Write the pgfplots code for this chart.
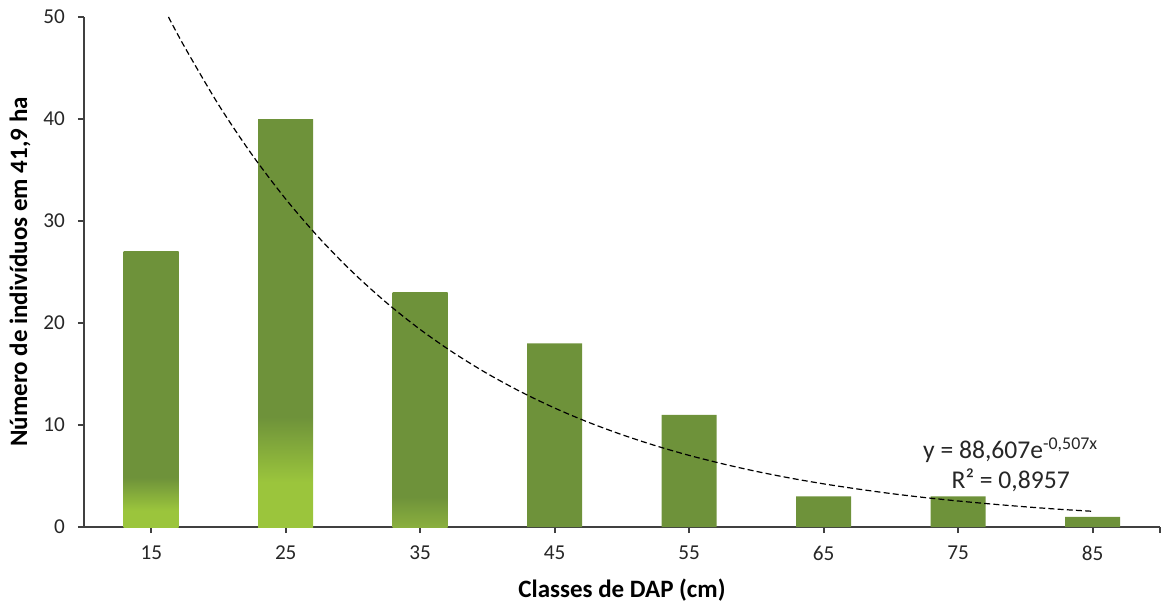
\documentclass[border=0pt]{standalone}
\usepackage{fontspec}
\setmainfont{Carlito}
\usepackage{pgfplots}
\pgfplotsset{compat=1.18}

\definecolor{bardark}{RGB}{110,146,58}
\definecolor{barlight}{RGB}{155,197,60}
\definecolor{barmid}{RGB}{138,175,62}
\definecolor{axisgray}{RGB}{64,64,64}
\definecolor{txt}{RGB}{38,38,38}

% vertical bar gradients: light green at the foot, dark green above
\pgfdeclareverticalshading{barA}{100bp}{color(0bp)=(barlight); color(28bp)=(barlight); color(34bp)=(bardark); color(100bp)=(bardark)}
\pgfdeclareverticalshading{barB}{100bp}{color(0bp)=(barlight); color(30.5bp)=(barlight); color(38.5bp)=(bardark); color(100bp)=(bardark)}
\pgfdeclareverticalshading{barC}{100bp}{color(0bp)=(barmid); color(25bp)=(barmid); color(31.5bp)=(bardark); color(100bp)=(bardark)}

\begin{document}
\begin{tikzpicture}
\begin{axis}[
  width=538pt, height=255pt, scale only axis,
  xmin=0.5, xmax=8.5, ymin=0, ymax=50,
  axis lines=left,
  axis line style={-, axisgray, line width=1pt},
  xtick={1,2,3,4,5,6,7,8,8.5},
  xticklabels={15,25,35,45,55,65,75,85,{}},
  ytick={0,10,...,50},
  tick align=outside, major tick length=3pt,
  tick style={axisgray, line width=0.8pt},
  tick label style={font=\fontsize{10.6}{12}\selectfont, text=txt},
  yticklabel style={xshift=-3pt},
  xticklabel style={yshift=-3pt},
  /pgf/number format/assume math mode=true,
  xlabel={Classes de DAP (cm)},
  ylabel={Número de indivíduos em 41,9 ha},
  label style={font=\bfseries\fontsize{12.5}{15}\selectfont, text=black},
  xlabel style={at={(axis description cs:0.5,-0.1235)}, anchor=center},
  ylabel style={at={(axis description cs:-0.0595,0.5)}, anchor=center},
  clip=false,
]
% bars
\addplot[ybar, bar width=27.5pt, bar shift=0pt, draw=none, shading=barA] coordinates {(1,27)};
\addplot[ybar, bar width=27.5pt, bar shift=0pt, draw=none, shading=barB] coordinates {(2,40)};
\addplot[ybar, bar width=27.5pt, bar shift=0pt, draw=none, shading=barC] coordinates {(3,23)};
\addplot[ybar, bar width=27.5pt, bar shift=0pt, draw=none, fill=bardark]
  coordinates {(4,18) (5,11) (6,3) (7,3) (8,1)};

% exponential trend line y = 88.607 e^{-0.507 x}
\addplot[black, line width=0.6pt, dash pattern=on 3pt off 1.6pt, smooth] coordinates {
  (1.128,50.00) (1.25,47.02) (1.5,41.41) (1.75,36.49) (2,32.15) (2.25,28.32)
  (2.5,24.95) (2.75,21.98) (3,19.36) (3.25,17.06) (3.5,15.03) (3.75,13.24)
  (4,11.66) (4.25,10.27) (4.5,9.05) (4.75,7.97) (5,7.02) (5.25,6.19)
  (5.5,5.45) (5.75,4.80) (6,4.23) (6.25,3.73) (6.5,3.28) (6.75,2.89)
  (7,2.55) (7.25,2.25) (7.5,1.98) (7.75,1.74) (8,1.54)
};

\node[align=center, text=txt, font=\fontsize{12.8}{15}\selectfont]
  at (axis cs:7.39,6.1) {y = 88,607e\textsuperscript{-0,507x}\\R² = 0,8957};
\end{axis}
\pgfresetboundingbox
\path ([shift={(-42pt,-37.5pt)}]current axis.south west) rectangle ++(581pt,301pt);
\end{tikzpicture}
\end{document}
